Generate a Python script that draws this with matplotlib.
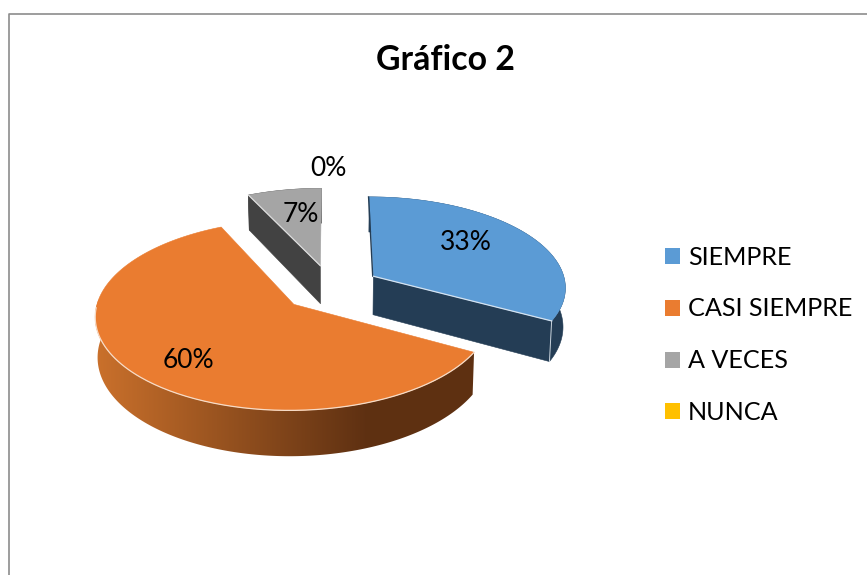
import numpy as np
import matplotlib
matplotlib.use('Agg')
import matplotlib.pyplot as plt
from matplotlib.patches import Polygon, Patch

# Data
categories = ['SIEMPRE', 'CASI SIEMPRE', 'A VECES', 'NUNCA']
values = [33, 60, 7, 0]
pct_labels = ['33%', '60%', '7%', '0%']

colors = ['#5B9BD5', '#EA7C30', '#A5A5A5', '#FFC000']
side_dark = ['#243D55', '#5F3012', '#424242', '#7F6000']
orange_light = (0.79, 0.44, 0.17)
orange_dark = (0.37, 0.19, 0.07)

plt.rcParams['font.family'] = ['Lato', 'DejaVu Sans']

# Projection of the pie plane on the picture (in pixels)
X0, Y0 = 331, 288
A, B, K = 193, 90.5, 0.11
EXPLODE = 0.259
DEPTH = 39
SHRINK = 0.99


def project(p, q):
    w = 1 + K * q
    return X0 + A * p / w, Y0 - B * q / w


def slice_points(t, t_mid):
    # t measured clockwise from 12 o'clock, slice pushed out along t_mid
    p = EXPLODE * np.sin(t_mid) + np.sin(t)
    q = EXPLODE * np.cos(t_mid) + np.cos(t)
    return project(p, q)


def lower(x, y):
    return X0 + (x - X0) * SHRINK, y + DEPTH / (1 + K * (Y0 - y) / B)


fig = plt.figure(figsize=(8.67, 5.75), dpi=100)
ax = fig.add_axes([0, 0, 1, 1])
ax.axis('off')

# Chart frame, cut by the right and bottom of the picture
ax.plot([8.5, 8.5, 867], [575, 13.5, 13.5], color='#8c8c8c', lw=1.2, solid_capstyle='butt')

# Slices, back to front
fractions = np.array(values) / sum(values) * 2 * np.pi
starts = np.concatenate([[0], np.cumsum(fractions)[:-1]])

for i in [2, 0, 1]:
    t0, t1 = starts[i], starts[i] + fractions[i]
    t_mid = (t0 + t1) / 2
    t = np.linspace(t0, t1, 240)
    x, y = slice_points(t, t_mid)
    ax0, ay0 = project(EXPLODE * np.sin(t_mid), EXPLODE * np.cos(t_mid))
    bx, by = lower(x, y)
    abx, aby = lower(ax0, ay0)

    # rim
    rim = np.column_stack([np.r_[x, bx[::-1]], np.r_[y, by[::-1]]])
    if i == 1:
        rim_patch = Polygon(rim, closed=True, fc='none', ec='none')
        ax.add_patch(rim_patch)
        gx = np.linspace(0, 1, 256)
        frac = np.clip((gx * 400 + 85 - 97) / (367 - 97), 0, 1)[None, :, None]
        grad = np.array(orange_light)[None, None, :] * (1 - frac) + np.array(orange_dark)[None, None, :] * frac
        im = ax.imshow(grad, extent=(85, 485, 470, 300), aspect='auto', interpolation='bilinear')
        im.set_clip_path(rim_patch)
    else:
        ax.add_patch(Polygon(rim, closed=True, fc=side_dark[i], ec=side_dark[i], lw=0.4))

    # cut faces
    if i == 0:
        ax.add_patch(Polygon([(ax0, ay0), (x[-1], y[-1]), (bx[-1], by[-1]), (abx, aby)],
                             closed=True, fc=side_dark[i], ec=side_dark[i], lw=0.4))
        ax.plot([x[-1], bx[-1]], [y[-1], by[-1]], color='#c9d3dc', lw=0.7)
        ax.plot([x[0] - 0.7, ax0 - 0.7], [y[0], ay0], color=side_dark[i], lw=1.0)
    if i == 2:
        ax.add_patch(Polygon([(ax0, ay0), (x[0], y[0]), (bx[0], by[0]), (abx, aby)],
                             closed=True, fc=side_dark[i], ec=side_dark[i], lw=0.4))

    # top
    top = np.column_stack([np.r_[ax0, x], np.r_[ay0, y]])
    ax.add_patch(Polygon(top, closed=True, fc=colors[i], ec=colors[i], lw=0.4))

    # light line on the edge between top and side
    if i == 1:
        vis = (t < np.radians(268))
        ax.plot(x[vis], y[vis], color='#f6dcc8', lw=0.9)
    if i == 0:
        ax.plot([ax0, x[-1]], [ay0, y[-1]], color='#d5e3f1', lw=0.9)
    if i == 2:
        ax.plot([ax0, x[0]], [ay0, y[0]], color='#dddddd', lw=0.9)

ax.set_xlim(0, 867)
ax.set_ylim(575, 0)

# Percentage labels
label_x = [466, 188, 301, 328]
label_y = [243, 361, 215, 168]
for lab, lx, ly in zip(pct_labels, label_x, label_y):
    ax.text(lx, ly, lab, fontsize=19, ha='center', va='center', color='black')

# Title
ax.text(445, 60, 'Gráfico 2', fontsize=24.4, fontweight='bold', ha='center', va='center', color='black')

# Legend
handles = [Patch(facecolor=c, edgecolor='none') for c in colors]
ax.legend(handles, categories, loc='center left', bbox_to_anchor=(0.767, 0.4175), frameon=False,
          fontsize=18.1, handlelength=0.6, handleheight=0.6, labelspacing=1.15,
          handletextpad=0.32, borderpad=0, borderaxespad=0, labelcolor='black')

plt.savefig('out.png', dpi=100)
